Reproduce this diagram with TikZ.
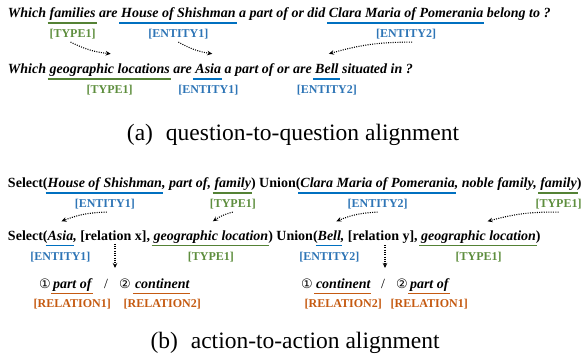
\documentclass[tikz,border=0pt]{standalone}
\usepackage{fontspec}
\setmainfont{Liberation Serif}
\newfontfamily\symfont{DejaVu Sans}
\usetikzlibrary{calc,arrows.meta}
\definecolor{ublue}{HTML}{0070C0}
\definecolor{ugreen}{HTML}{548235}
\definecolor{uorange}{HTML}{C55A11}
\definecolor{lblue}{HTML}{2E75B6}
\definecolor{lgreen}{HTML}{5E8E3E}
\definecolor{lorange}{HTML}{C55A11}
\newcommand{\tsp}{\ \null}
\tikzset{
  w/.style={inner sep=0pt, outer sep=0pt, anchor=base west, font=\fontsize{14}{16}\selectfont\bfseries\itshape},
  wu/.style={inner sep=0pt, outer sep=0pt, anchor=base west, font=\fontsize{14}{16}\selectfont\bfseries},
  wr/.style={inner sep=0pt, outer sep=0pt, anchor=base west, font=\fontsize{14}{16}\selectfont},
  circ/.style={inner sep=0pt, outer sep=0pt, anchor=base west, font=\fontsize{13}{15}\selectfont\symfont},
  lab/.style={inner sep=0pt, outer sep=0pt, anchor=base, font=\fontsize{12}{14}\selectfont\bfseries},
  ulbar/.style={line width=1.8pt},
  arr/.style={dash pattern=on 1pt off 1.3pt, line width=1.1pt, -{Stealth[length=5pt,width=4.5pt]}},
  captxt/.style={inner sep=0pt, anchor=base, font=\fontsize{23.5}{27}\selectfont},
}
\begin{document}
\begin{tikzpicture}[x=1pt,y=1pt]
\useasboundingbox (0,0) rectangle (585,-356);

% ---------- line 1 ----------
\node[w] (l1a) at (8,-17.5) {Which\tsp};
\node[w] (fam) at (l1a.base east) {families};
\node[w] (l1b) at (fam.base east) {\ are\tsp};
\node[w] (hos) at (l1b.base east) {House of Shishman};
\node[w] (l1c) at (hos.base east) {\ a part of or did\tsp};
\node[w] (cla) at (l1c.base east) {Clara Maria of Pomerania};
\node[w] (l1d) at (cla.base east) {\ belong to ?};

% ---------- line 2 ----------
\node[w] (l2a) at (8,-73.5) {Which\tsp};
\node[w] (geo) at (l2a.base east) {geographic locations};
\node[w] (l2b) at (geo.base east) {\ are\tsp};
\node[w] (asia) at (l2b.base east) {Asia};
\node[w] (l2c) at (asia.base east) {\ a part of or are\tsp};
\node[w] (bell) at (l2c.base east) {Bell};
\node[w] (l2d) at (bell.base east) {\ situated in ?};

% ---------- line 3 ----------
\node[wu] (s1) at (8,-187.5) {Select(};
\node[w] (hos2) at (s1.base east) {House of Shishman};
\node[w] (l3a) at (hos2.base east) {, part of,\tsp};
\node[w] (fam2) at (l3a.base east) {family};
\node[wu] (l3b) at (fam2.base east) {) Union(};
\node[w] (cla2) at (l3b.base east) {Clara Maria of Pomerania};
\node[w] (l3c) at (cla2.base east) {, noble family,\tsp};
\node[w] (fam3) at (l3c.base east) {family};
\node[wu] (l3d) at (fam3.base east) {)};

% ---------- line 4 ----------
\node[wu] (s2) at (8,-240) {Select(};
\node[w] (asia2) at (s2.base east) {Asia};
\node[w] (l4a) at (asia2.base east) {,\tsp};
\node[wu] (relx) at (l4a.base east) {[relation x]};
\node[wu] (l4b) at (relx.base east) {,\tsp};
\node[w] (geo2) at (l4b.base east) {geographic location};
\node[wu] (l4c) at (geo2.base east) {) Union(};
\node[w] (bell2) at (l4c.base east) {Bell};
\node[w] (l4d) at (bell2.base east) {,\tsp};
\node[wu] (rely) at (l4d.base east) {[relation y]};
\node[wu] (l4e) at (rely.base east) {,\tsp};
\node[w] (geo3) at (l4e.base east) {geographic location};
\node[wu] (l4f) at (geo3.base east) {)};

% ---------- line 5 ----------
\node[circ] (c1) at (39,-288) {①};
\node[w] (po1) at (53,-288) {part of};
\node[wr] (sl1) at (104,-288) {/};
\node[circ] (c2) at (119,-288) {②};
\node[w] (co1) at (135,-288) {continent};
\node[circ] (c3) at (301,-288) {①};
\node[w] (co2) at (316,-288) {continent};
\node[wr] (sl2) at (381,-288) {/};
\node[circ] (c4) at (396,-288) {②};
\node[w] (po2) at (410,-288) {part of};

% ---------- underlines ----------
\foreach \n/\c in {fam/ugreen, hos/ublue, cla/ublue, geo/ugreen, asia/ublue, bell/ublue,
                   hos2/ublue, fam2/ugreen, cla2/ublue, fam3/ugreen,
                   asia2/ublue, geo2/ugreen, bell2/ublue, geo3/ugreen,
                   po1/uorange, co1/uorange, co2/uorange, po2/uorange}
  \draw[ulbar, \c] ($(\n.base west)+(-2,-5.5)$) -- ($(\n.base east)+(1,-5.5)$);

% ---------- labels ----------
\node[lab, lgreen] (t1) at ($(fam.base)+(0,-20)$) {[TYPE1]};
\node[lab, lblue] (e1) at ($(hos.base)+(0,-20)$) {[ENTITY1]};
\node[lab, lblue] (e2) at ($(cla.base)+(0,-20)$) {[ENTITY2]};
\node[lab, lgreen] (t1b) at ($(geo.base)+(0,-20)$) {[TYPE1]};
\node[lab, lblue] (e1b) at ($(asia.base)+(0,-20)$) {[ENTITY1]};
\node[lab, lblue] (e2b) at ($(bell.base)+(0,-20)$) {[ENTITY2]};

\node[lab, lblue] (e1c) at ($(hos2.base)+(0,-20)$) {[ENTITY1]};
\node[lab, lgreen] (t1c) at ($(fam2.base)+(0,-20)$) {[TYPE1]};
\node[lab, lblue] (e2c) at ($(cla2.base)+(0,-20)$) {[ENTITY2]};
\node[lab, lgreen] (t1d) at ($(fam3.base)+(0,-20)$) {[TYPE1]};

\node[lab, lblue] (e1d) at ($(asia2.base)+(0,-20)$) {[ENTITY1]};
\node[lab, lgreen] (t1e) at ($(geo2.base)+(0,-20)$) {[TYPE1]};
\node[lab, lblue] (e2d) at ($(bell2.base)+(0,-20)$) {[ENTITY2]};
\node[lab, lgreen] (t1f) at ($(geo3.base)+(0,-20)$) {[TYPE1]};

\node[lab, lorange] (r1) at ($(po1.base)+(0,-19)$) {[RELATION1]};
\node[lab, lorange] (r2) at ($(co1.base)+(0,-19)$) {[RELATION2]};
\node[lab, lorange] (r3) at ($(co2.base)+(0,-19)$) {[RELATION2]};
\node[lab, lorange] (r4) at ($(po2.base)+(0,-19)$) {[RELATION1]};

% ---------- arrows ----------
\draw[arr] ([xshift=-2pt,yshift=-3pt]t1.south) to[bend right=10] ([xshift=1pt,yshift=10pt]geo.north);
\draw[arr] ([yshift=-3pt]e1.south) to[bend right=10] ([xshift=4pt,yshift=10pt]asia.north);
\draw[arr] ([xshift=6pt,yshift=-3pt]e2.south) to[bend right=8] ([xshift=2pt,yshift=10pt]bell.north);

\draw[arr] ([xshift=2pt,yshift=-3pt]e1c.south) to[bend right=10] ([xshift=1pt,yshift=9pt]asia2.north);
\draw[arr] ([yshift=-3pt]t1c.south) to[bend right=10] ([xshift=2pt,yshift=9pt]geo2.north);
\draw[arr] ([yshift=-3pt]e2c.south) to[bend right=10] ([xshift=7pt,yshift=9pt]bell2.north);
\draw[arr] ([yshift=-3pt]t1d.south) to[bend right=8] ([xshift=9pt,yshift=9pt]geo3.north);

\coordinate (v1) at (115,-268);
\coordinate (v2) at (385,-268);
\draw[arr] ([yshift=-2pt]relx.south -| v1) -- (v1);
\draw[arr] ([yshift=-2pt]rely.south -| v2) -- (v2);

% ---------- captions ----------
\node[captxt] (capa) at (293,-140) {(a)\hspace{0.55em}question-to-question alignment};
\node[captxt] (capb) at (295,-348) {(b)\hspace{0.55em}action-to-action alignment};
\end{tikzpicture}
\end{document}
